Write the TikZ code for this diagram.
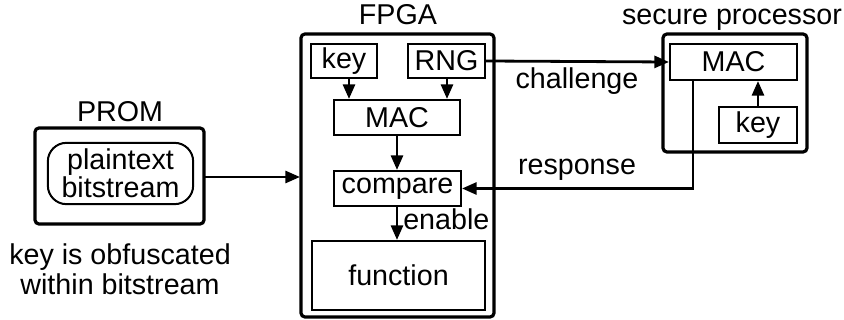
\documentclass[tikz,border=0pt]{standalone}
\usepackage{fontspec}
\setmainfont{Liberation Sans}
\usetikzlibrary{arrows.meta}

\tikzset{
  outer/.style={draw, line width=2.4pt, rounded corners=3pt},
  blk/.style={draw, line width=1.5pt, inner sep=0pt},
  flow/.style={line width=2.1pt, -{Triangle[length=11pt,width=9pt]}},
  lbl/.style={inner sep=0pt, align=center}
}

\begin{document}
\begin{tikzpicture}[x=0.75pt, y=-0.75pt, font=\fontsize{21.5}{22.5}\selectfont]
\useasboundingbox (0,0) rectangle (844,320);
% PROM
\draw[outer] (35,128) rectangle (204,224);
\node[lbl, anchor=base] (promlbl) at (120,122) {PROM};
\node[draw, line width=1.5pt, rounded corners=14pt, minimum width=109pt, minimum height=46pt, lbl, font=\fontsize{21.5}{19.5}\selectfont] (bits) at (120.5,173.5) {plaintext\\bitstream};
\coordinate (promr) at (204,177);
\node[lbl] (note) at (120,269) {key is obfuscated\\within bitstream};
% FPGA
\draw[outer] (301,34) rectangle (494,317);
\node[lbl, anchor=base] (fpgalbl) at (398,25) {FPGA};
\coordinate (fpgal) at (300,177);
\node[blk, minimum width=49.5pt, minimum height=25.5pt] (key) at (344,61) {key};
\node[blk, minimum width=57.75pt, minimum height=25.5pt] (rng) at (446.5,61) {RNG};
\node[blk, minimum width=94.5pt, minimum height=26.25pt] (mac) at (397,117.5) {MAC};
\node[blk, minimum width=95.25pt, minimum height=26.25pt] (cmp) at (397.5,188.5) {compare};
\node[blk, minimum width=129.75pt, minimum height=51.75pt] (func) at (398.5,275.5) {function};
\draw[flow] (key.south -| 349,0) -- (mac.north -| 349,0);
\draw[flow] (rng.south -| 447,0) -- (mac.north -| 447,0);
\draw[flow] (mac.south -| 397,0) -- (cmp.north -| 397,0);
\draw[flow] (cmp.south -| 397,0) -- (func.north -| 397,0);
\node[lbl, anchor=base west] (enable) at (403,230) {enable};
% secure processor
\draw[outer] (663,34) rectangle (807,152);
\node[lbl, anchor=base] (seclbl) at (732,25) {secure processor};
\node[blk, minimum width=95.25pt, minimum height=27pt] (smac) at (733.5,62) {MAC};
\node[blk, minimum width=58.5pt, minimum height=27pt] (skey) at (758,125) {key};
\draw[flow] (skey.north) -- (skey.north |- smac.south);
% links
\draw[flow] (promr) -- (fpgal);
\draw[flow] (rng.east) -- (smac.west);
\node[lbl, anchor=base] (chal) at (577,89) {challenge};
\draw[flow] (smac.south -| 693,0) |- (cmp.east);
\node[lbl, anchor=base] (resp) at (577,175) {response};
\end{tikzpicture}
\end{document}
